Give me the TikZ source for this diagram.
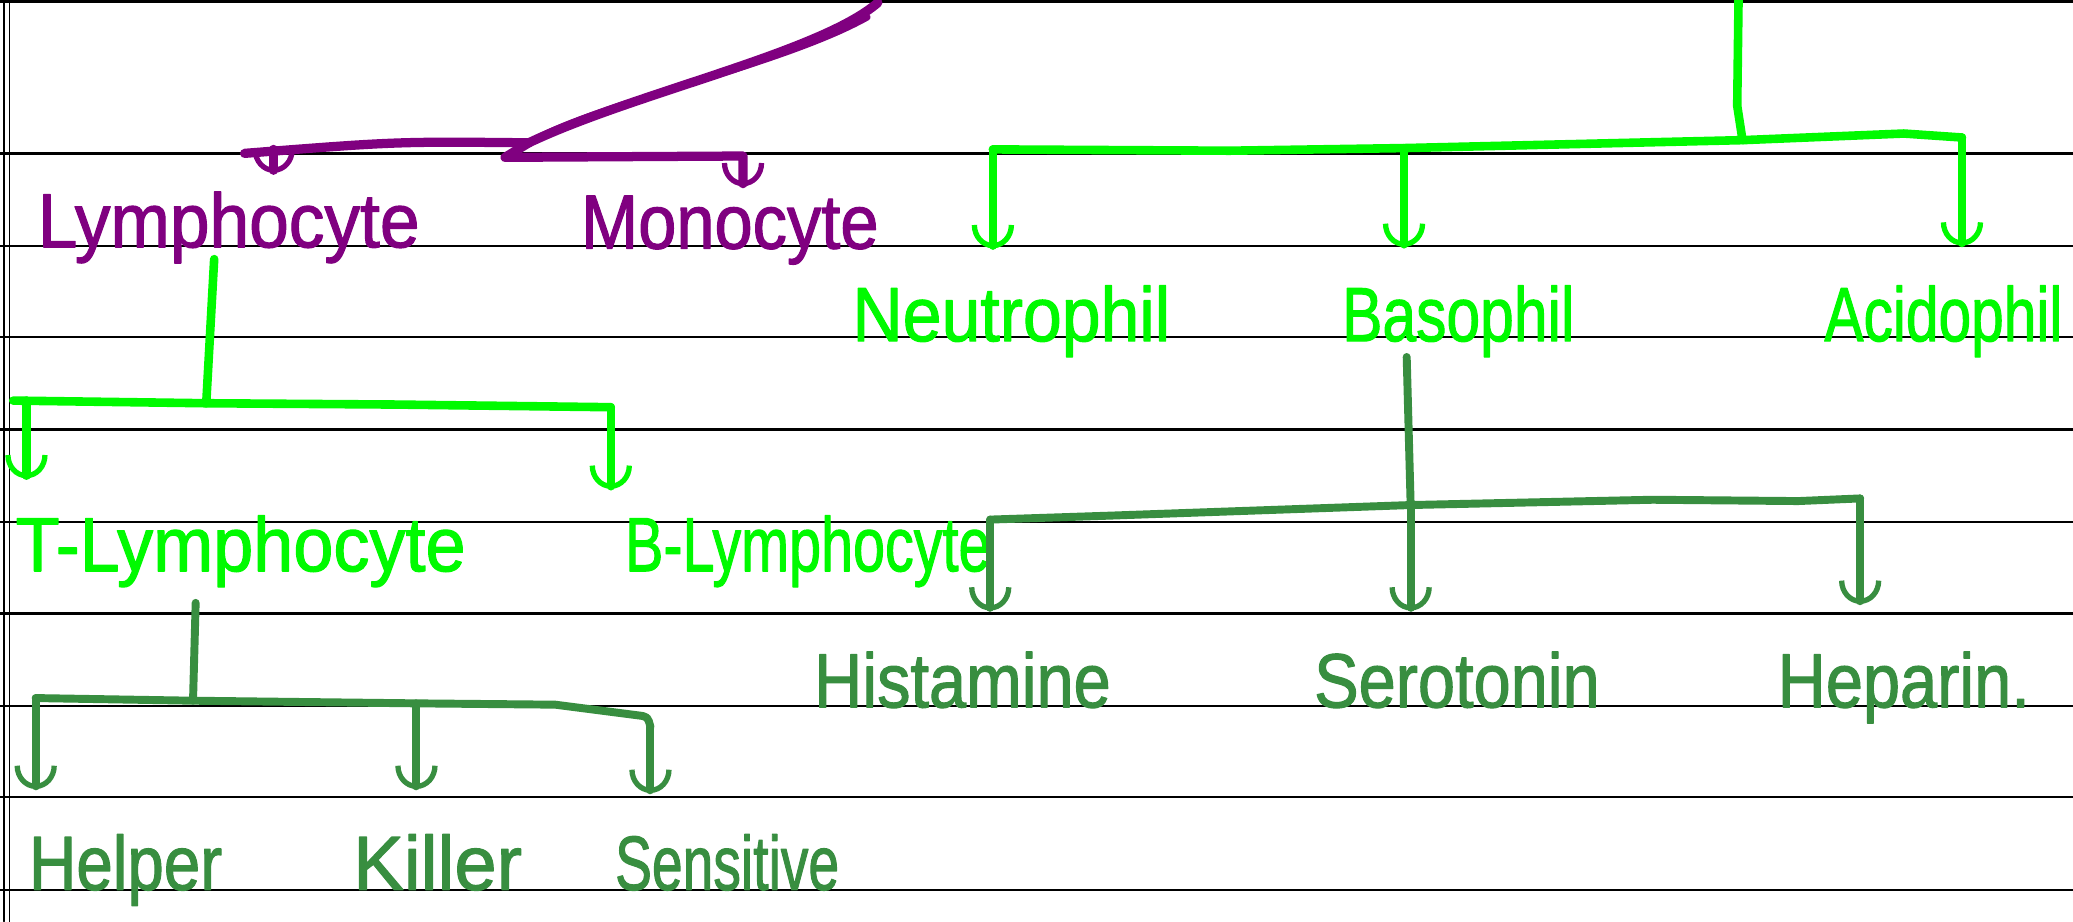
\documentclass[tikz,border=0pt]{standalone}
\usepackage{fontspec}
\setmainfont[FakeBold=1.6,AutoFakeBold=1.6]{Liberation Sans}
\usetikzlibrary{arrows.meta}
\definecolor{pur}{RGB}{128,0,128}
\definecolor{bgreen}{RGB}{0,250,0}
\definecolor{dgreen}{RGB}{56,142,64}
\newcommand\hw[2]{\scalebox{#1}[1]{\bfseries #2}}
\begin{document}
\begin{tikzpicture}[x=1pt,y=-1pt,line cap=round,line join=round,
  lbl/.style={font=\fontsize{58}{60}\selectfont, inner xsep=0pt, inner ysep=4pt, anchor=base},
  pl/.style={draw=pur, line width=7pt},
  bl/.style={draw=bgreen, line width=6.5pt},
  dl/.style={draw=dgreen, line width=6pt},
  hook/.style={-{Arc Barb[length=11pt,width=20pt,line width=4pt,scale=1.6]}},
  rulel/.style={draw=black, line width=1.8pt}]
\useasboundingbox (0,0) rectangle (1568,697);
\fill[white] (0,0) rectangle (1568,697);
% ruled paper
\draw[rulel] (0,1) -- (1568,1);
\foreach \yy in {116,186,255,325,395,464,534,603,673} \draw[rulel] (0,\yy) -- (1568,\yy);
\draw[black,line width=1pt] (3,0) -- (3,697) (7,0) -- (7,697);
% labels
\node[lbl,text=pur] (lym) at (173,187) {\hw{0.93}{Lymphocyte}};
\node[lbl,text=pur] (mon) at (552,188) {\hw{0.895}{Monocyte}};
\node[lbl,text=bgreen] (neu) at (765,258) {\hw{0.91}{Neutrophil}};
\node[lbl,text=bgreen] (bas) at (1103,258) {\hw{0.79}{Basophil}};
\node[lbl,text=bgreen] (aci) at (1470,258) {\hw{0.765}{Acidophil}};
\node[lbl,text=bgreen] (tly) at (182,432) {\hw{0.94}{T-Lymphocyte}};
\node[lbl,text=bgreen] (bly) at (611,432) {\hw{0.75}{B-Lymphocyte}};
\node[lbl,text=dgreen] (his) at (728,535) {\hw{0.87}{Histamine}};
\node[lbl,text=dgreen] (ser) at (1102,535) {\hw{0.87}{Serotonin}};
\node[lbl,text=dgreen] (hep) at (1440,535) {\hw{0.87}{Heparin.}};
\node[lbl,text=dgreen] (hel) at (95,673) {\hw{0.855}{Helper}};
\node[lbl,text=dgreen] (kil) at (331,673) {\hw{0.99}{Killer}};
\node[lbl,text=dgreen] (sen) at (550,673) {\hw{0.72}{Sensitive}};
% purple branch
\coordinate (ptop) at (664,2);
\coordinate (ptop2) at (656,13);
\coordinate (pj) at (400,108);
\coordinate (plm) at (207,113);
\coordinate (pl0) at (185,116);
\coordinate (pmr) at (562,118);
\draw[pl] (ptop) .. controls (620,40) and (480,70) .. (pj);
\draw[pl,line width=5pt] (ptop2) .. controls (590,50) and (450,78) .. (pj);
\draw[pl] (pj) .. controls (300,107) .. (pl0);
\draw[pl,hook,shorten >=10pt] (plm) -- (plm |- lym.north);
\draw[pl,hook,shorten >=3pt] (pj) -- (382,119) -- (pmr) -- (pmr |- mon.north);
% bright green top branch
\coordinate (gtop) at (1315,0);
\coordinate (gj) at (1318,106);
\coordinate (gl) at (751,113);
\coordinate (gm) at (1062,112);
\coordinate (gr) at (1484,104);
\draw[bl] (gtop) -- (1314,80) -- (gj);
\draw[bl] (gl) -- (930,114) -- (gm) -- (gj) -- (1440,101) -- (gr);
\draw[bl,hook,shorten >=24pt] (gl) -- (gl |- neu.north);
\draw[bl,hook,shorten >=25pt] (gm) -- (gm |- bas.north);
\draw[bl,hook,shorten >=26pt] (gr) -- (gr |- aci.north);
% lymphocyte subtree
\coordinate (lv) at (162,196);
\coordinate (lj) at (156,305);
\coordinate (ll) at (20,303);
\coordinate (ll0) at (10,303);
\coordinate (lr) at (462,308);
\draw[bl] (lv) -- (lj);
\draw[bl] (ll0) -- (lj) -- (300,306) -- (lr);
\draw[bl,hook,shorten >=24pt] (ll) -- (ll |- tly.north);
\draw[bl,hook,shorten >=16pt] (lr) -- (lr |- bly.north);
% basophil subtree
\coordinate (bv) at (1064,270);
\coordinate (bj) at (1067,382);
\coordinate (dl1) at (749,393);
\coordinate (br) at (1407,377);
\draw[dl] (bv) -- (bj);
\draw[dl] (dl1) -- (840,390) -- (bj) -- (1250,378) -- (1360,379) -- (br);
\draw[dl,hook,shorten >=27pt] (dl1) -- (dl1 |- his.north);
\draw[dl,hook,shorten >=27pt] (bj) -- (bj |- ser.north);
\draw[dl,hook,shorten >=32pt] (br) -- (br |- hep.north);
% T-lymphocyte subtree
\coordinate (tv) at (148,456);
\coordinate (tj) at (146,530);
\coordinate (tl) at (27,528);
\coordinate (tm) at (315,532);
\coordinate (tr) at (492,550);
\draw[dl] (tv) -- (tj);
\draw[dl] (tl) -- (tj) -- (tm) -- (420,533) -- (482,541) .. controls (490,542) .. (tr);
\draw[dl,hook,shorten >=30pt] (tl) -- (tl |- hel.north);
\draw[dl,hook,shorten >=30pt] (tm) -- (tm |- kil.north);
\draw[dl,hook,shorten >=27pt] (tr) -- (tr |- sen.north);
\end{tikzpicture}
\end{document}
